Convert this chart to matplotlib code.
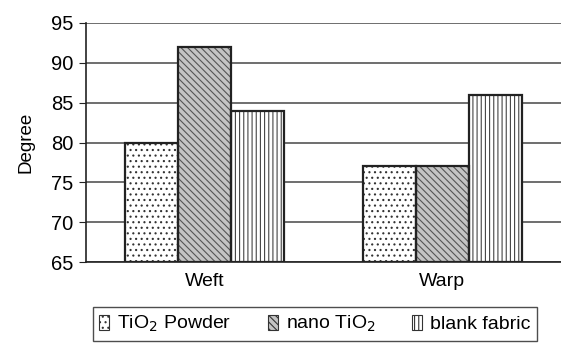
import matplotlib.pyplot as plt
import numpy as np

plt.rcParams['font.family'] = ['Liberation Sans', 'DejaVu Sans']
plt.rcParams['hatch.linewidth'] = 0.8

directions = ['Weft', 'Warp']
series = ['TiO$_2$ Powder', 'nano TiO$_2$', 'blank fabric']
tio2_powder = [80, 77]
nano_tio2 = [92, 77]
blank_fabric = [84, 86]

faces = ['white', '#c4c4c4', 'white']
hatches = ['...', '\\\\\\\\\\', '||||']
hatch_colors = ['#333333', '#555555', '#444444']

fig = plt.figure(figsize=(5.61, 3.43), dpi=100)
ax = fig.add_axes([0.1533, 0.236, 0.8467, 0.697])

x = np.arange(len(directions))
width = 0.223
for i, (vals, label) in enumerate(zip([tio2_powder, nano_tio2, blank_fabric], series)):
    pos = x + (i - 1) * width
    ax.bar(pos, np.array(vals) - 65, width, bottom=65, color=faces[i],
           edgecolor=hatch_colors[i], hatch=hatches[i], linewidth=0,
           label=label, zorder=2)
    # outline drawn separately so the hatch colour can differ
    ax.bar(pos, np.array(vals) - 65, width, bottom=65, fill=False,
           edgecolor='#222222', linewidth=1.6, zorder=3)

ax.set_ylim(65, 95)
ax.set_xlim(-0.5, 1.5)
ax.set_yticks(range(65, 96, 5))
ax.set_xticks(x)
ax.set_xticklabels(directions, fontsize=14)
ax.tick_params(axis='x', length=0, pad=8)
ax.tick_params(axis='y', labelsize=14.5, length=5, direction='out', color='#222222', pad=4)
ax.set_ylabel('Degree', fontsize=13.5, labelpad=12)

ax.yaxis.grid(True, color='#555555', linewidth=1.2, zorder=0)
ax.set_axisbelow(True)
for side in ['top', 'right']:
    ax.spines[side].set_visible(False)
ax.spines['left'].set_color('#222222')
ax.spines['bottom'].set_color('#222222')
ax.spines['left'].set_linewidth(1.2)
ax.spines['bottom'].set_linewidth(1.2)

handles, labels = ax.get_legend_handles_labels()
leg = fig.legend(handles, labels, loc='lower center', bbox_to_anchor=(0.561, 0.0),
                 ncol=3, fontsize=14, frameon=True, fancybox=False,
                 edgecolor='#222222', handlelength=0.5, handleheight=0.8,
                 handletextpad=0.4, columnspacing=1.9, borderpad=0.35,
                 borderaxespad=0.1)
leg.get_frame().set_linewidth(1.0)
for patch in leg.get_patches():
    patch.set_linewidth(0.8)
    patch.set_edgecolor('#333333')

fig.savefig('out.png', dpi=100)
